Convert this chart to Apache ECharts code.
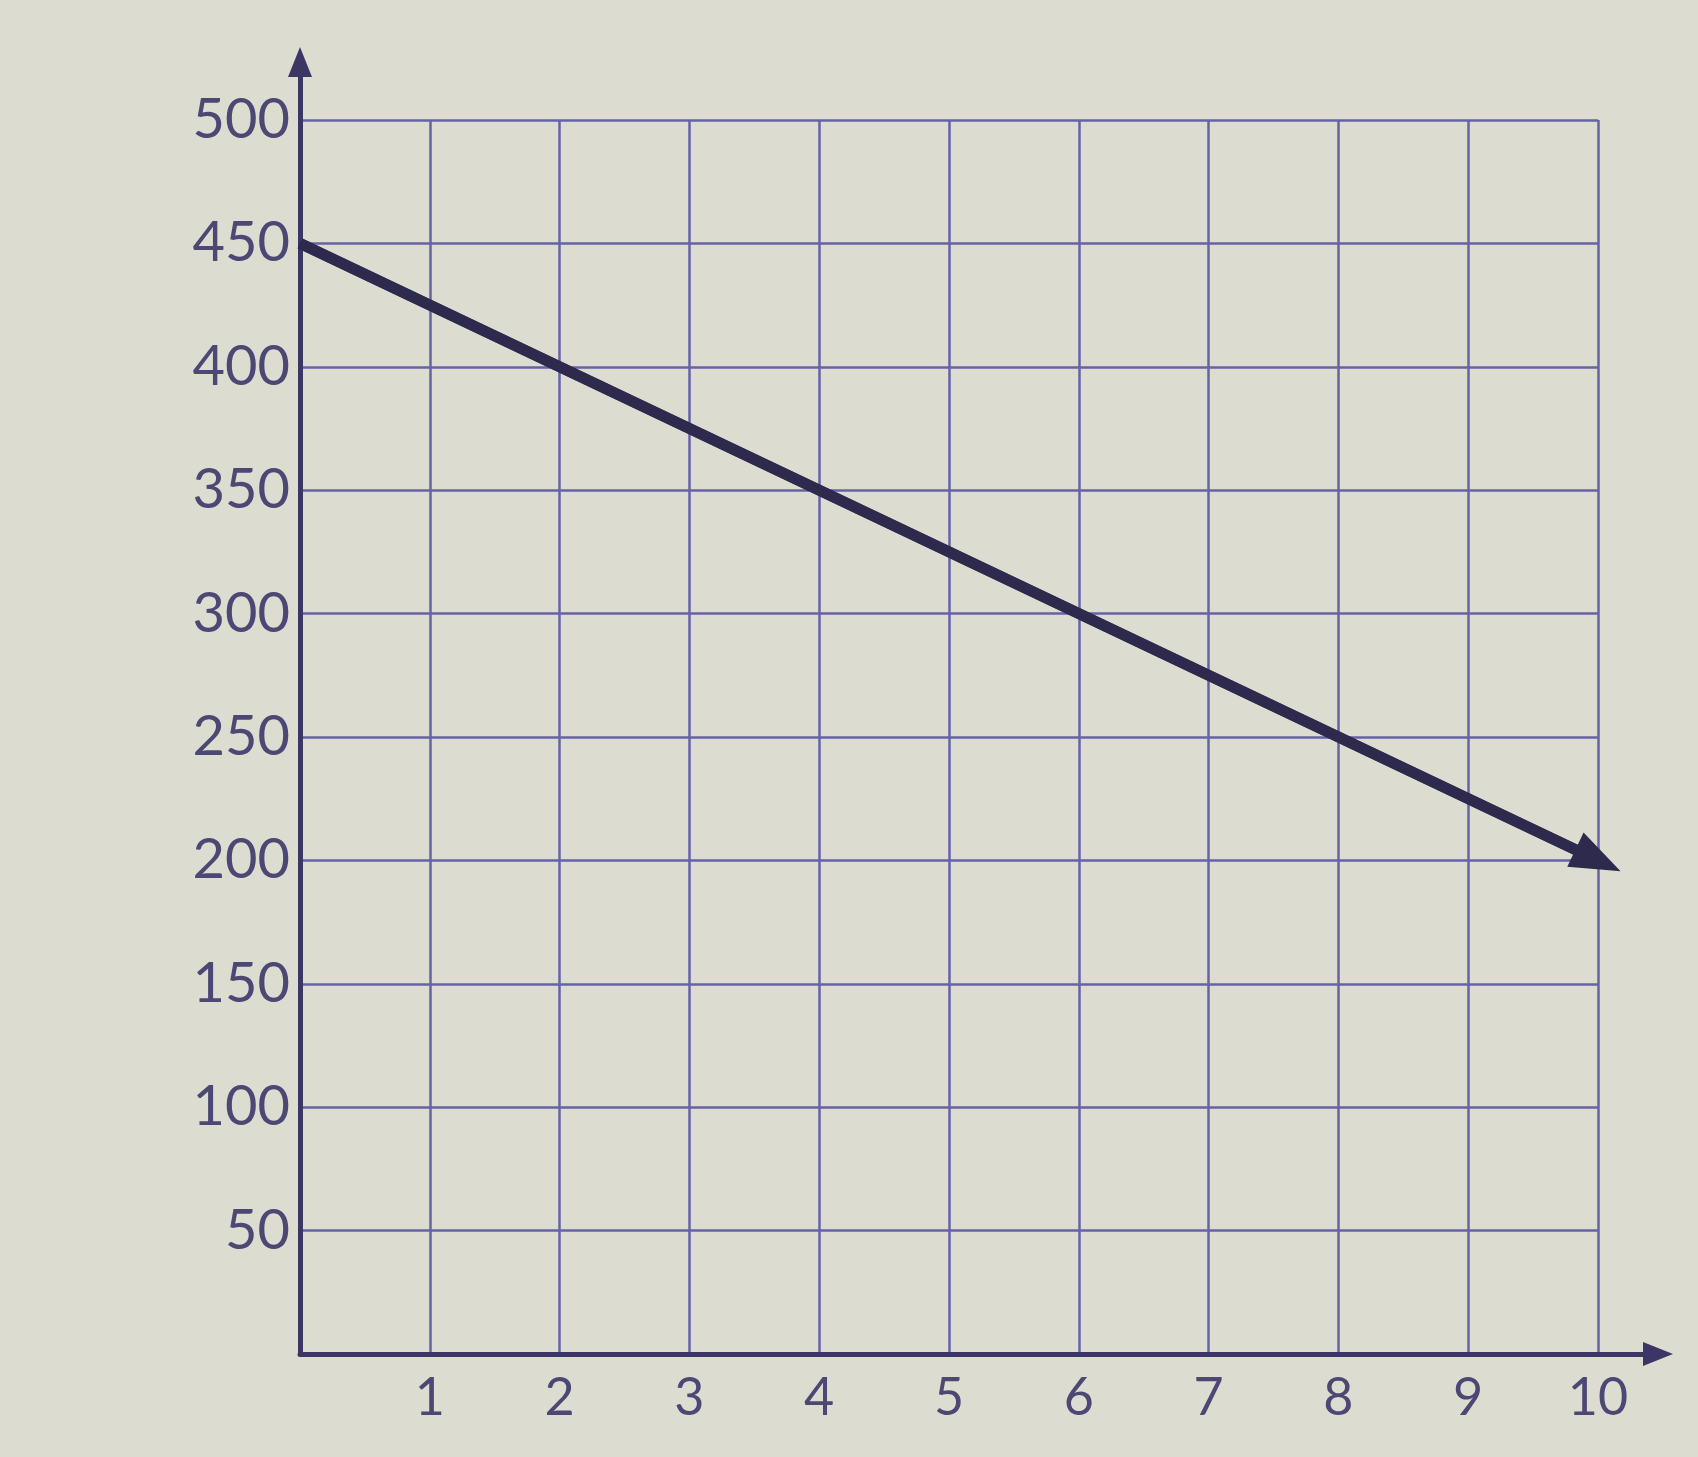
<!DOCTYPE html>
<html>
<head>
<meta charset="utf-8">
<style>
html,body{margin:0;padding:0;background:#dcdcd1;}
#chart{width:1698px;height:1457px;}
</style>
<script src="https://cdn.jsdelivr.net/npm/echarts@6/dist/echarts.min.js"></script>
</head>
<body>
<div id="chart"></div>
<script>
// Data
const xValues = [0, 10];
const yValues = [450, 200];
const xTicks = [1, 2, 3, 4, 5, 6, 7, 8, 9, 10];
const yTicks = [50, 100, 150, 200, 250, 300, 350, 400, 450, 500];

const gridColor = '#6563a6';
const axisColor = '#3b3664';
const textColor = '#4d4873';
const lineColor = '#2e2a4e';

const chart = echarts.init(document.getElementById('chart'));
const lineData = xValues.map((x, i) => [x, yValues[i]]);

chart.setOption({
  backgroundColor: '#dcdcd1',
  animation: false,
  grid: [
    {left: 300, right: 100, top: 120, bottom: 103},
    {left: 300, right: 40, top: 62, bottom: 103}
  ],
  xAxis: [
    {
      gridIndex: 0, type: 'value', min: 0, max: 10, interval: 1,
      axisLine: {show: false},
      axisTick: {show: false},
      splitLine: {show: true, lineStyle: {color: gridColor, width: 2.5}},
      axisLabel: {
        color: textColor, fontSize: 52, fontFamily: 'Lato', margin: 18,
        formatter: v => (xTicks.includes(v) ? String(v) : '')
      }
    },
    {
      gridIndex: 1, type: 'value', min: 0, max: 1,
      axisLine: {show: true, symbol: ['none', 'triangle'], symbolSize: [24, 30], lineStyle: {color: axisColor, width: 5}},
      axisTick: {show: false}, axisLabel: {show: false}, splitLine: {show: false}
    }
  ],
  yAxis: [
    {
      gridIndex: 0, type: 'value', min: 0, max: 500, interval: 50,
      axisLine: {show: false},
      axisTick: {show: false},
      splitLine: {show: true, lineStyle: {color: gridColor, width: 2.5}},
      axisLabel: {
        color: textColor, fontSize: 56, fontFamily: 'Lato', margin: 10,
        formatter: v => (yTicks.includes(v) ? String(v) : '')
      }
    },
    {
      gridIndex: 1, type: 'value', min: 0, max: 1,
      axisLine: {show: true, symbol: ['none', 'triangle'], symbolSize: [24, 30], lineStyle: {color: axisColor, width: 5}},
      axisTick: {show: false}, axisLabel: {show: false}, splitLine: {show: false}
    }
  ],
  series: [
    {
      type: 'line',
      xAxisIndex: 0, yAxisIndex: 0,
      data: lineData,
      showSymbol: false,
      lineStyle: {color: lineColor, width: 11},
      markLine: {
        silent: true,
        symbol: ['none', 'triangle'],
        symbolSize: [38, 50],
        label: {show: false},
        lineStyle: {color: lineColor, width: 11, type: 'solid'},
        data: [[{coord: lineData[0]}, {coord: lineData[lineData.length - 1]}]]
      }
    }
  ]
});
</script>
</body>
</html>
